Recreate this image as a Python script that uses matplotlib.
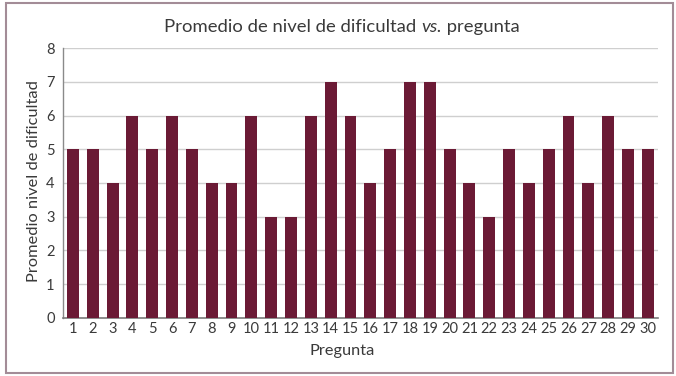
"""
Bar chart: average difficulty level per question (30 questions).
Saves to out.png
"""
import numpy as np
import matplotlib.pyplot as plt
import matplotlib.patches as mpatches

QUESTIONS = list(range(1, 31))
DIFFICULTY = [5, 5, 4, 6, 5, 6, 5, 4, 4, 6,
              3, 3, 6, 7, 6, 4, 5, 7, 7, 5,
              4, 3, 5, 4, 5, 6, 4, 6, 5, 5]
YTICKS = list(range(0, 9))

BAR_COLOR = "#6b1a35"
TEXT_COLOR = "#3a3a3a"
FONT = "Lato"


def main():
    plt.rcParams.update({"font.family": FONT})
    fig = plt.figure(figsize=(6.76, 3.76), dpi=100)
    ax = fig.add_axes([0.0932, 0.1543, 0.8798, 0.718])

    ax.bar(QUESTIONS, DIFFICULTY, width=0.6, color=BAR_COLOR, zorder=3)

    ax.set_xlim(0.5, 30.5)
    ax.set_ylim(0, 8)
    ax.set_xticks(QUESTIONS)
    ax.set_yticks(YTICKS)
    ax.tick_params(length=0, labelsize=10.5, colors=TEXT_COLOR)
    ax.tick_params(axis="y", pad=6)
    ax.tick_params(axis="x", pad=3)
    ax.grid(axis="y", color="#cfcfcf", lw=1.0, zorder=0)
    ax.spines[["top", "right"]].set_visible(False)
    ax.spines["left"].set_color("#8a8a8a")
    ax.spines["bottom"].set_color("#7a7a7a")
    ax.spines["left"].set_linewidth(1.0)
    ax.spines["bottom"].set_linewidth(1.2)

    # axis labels, centred like the original layout
    fig.text(342 / 676, 1 - 351 / 376, "Pregunta", fontsize=11.8,
             color=TEXT_COLOR, ha="center", va="center")
    fig.text(34 / 676, 1 - 181 / 376, "Promedio nivel de dificultad",
             fontsize=11.8, color=TEXT_COLOR, ha="center", va="center",
             rotation=90)

    # title with italic "vs."
    parts = [("Promedio de nivel de dificultad ", "normal"),
             ("vs.", "italic"),
             (" pregunta", "normal")]
    renderer = fig.canvas.get_renderer()
    texts = [fig.text(0, 0.928, s, fontsize=13.3, style=st, color=TEXT_COLOR,
                      va="center", ha="left") for s, st in parts]
    widths = [t.get_window_extent(renderer).width for t in texts]
    x = 342 - sum(widths) / 2
    for t, w in zip(texts, widths):
        t.set_x(x / 676)
        x += w

    border = mpatches.Rectangle((6 / 676, 3 / 376), 667 / 676, 370 / 376,
                                transform=fig.transFigure, fill=False,
                                edgecolor="#a38c97", lw=1.5)
    fig.patches.append(border)

    fig.savefig("out.png", dpi=100)
    plt.close()


if __name__ == "__main__":
    main()
